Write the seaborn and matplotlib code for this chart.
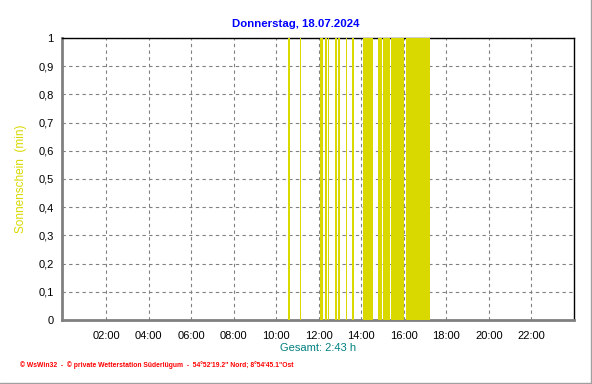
import numpy as np
import pandas as pd
import matplotlib
matplotlib.use("Agg")
import matplotlib.pyplot as plt
from matplotlib.lines import Line2D
from matplotlib.ticker import MultipleLocator, FuncFormatter
import seaborn as sns

# sunshine intervals (start time, duration in minutes)
sun_start = ["10:34", "11:07", "12:02", "12:18", "12:26", "12:46", "12:55",
             "13:17", "13:34", "14:05", "14:11", "14:46", "15:02", "15:24",
             "16:06"]
sun_minutes = [1, 1, 8, 2, 1, 1, 3, 1, 1, 1, 20, 10, 17, 34, 65]
sun_value = [1] * len(sun_start)

hour_ticks = [2, 4, 6, 8, 10, 12, 14, 16, 18, 20, 22]
hour_labels = ["02:00", "04:00", "06:00", "08:00", "10:00", "12:00",
               "14:00", "16:00", "18:00", "20:00", "22:00"]

title = "Donnerstag, 18.07.2024"
total_label = "Gesamt: 2:43 h"
footer = ("© WsWin32  -  © private Wetterstation Süderlügum  -  "
          "54°52'19.2\" Nord; 8°54'45.1\"Ost")

df = pd.DataFrame({
    "start": pd.to_timedelta([s + ":00" for s in sun_start]).total_seconds() / 3600,
    "width": np.array(sun_minutes) / 60,
    "value": sun_value,
})

sns.set_style("white")
plt.rcParams["font.family"] = ["Liberation Sans", "DejaVu Sans"]

fig = plt.figure(figsize=(5.92, 3.84), dpi=100)
ax = fig.add_axes([62 / 592, 1 - 320 / 384, 512 / 592, 282 / 384])

bar_col = "#d9d900"
ax.bar(df["start"], df["value"], width=df["width"], align="edge",
       color=bar_col, edgecolor=bar_col, linewidth=0.72, antialiased=False,
       zorder=3)

ax.set_xlim(-0.08, 24)
ax.set_ylim(0, 1)


def comma_fmt(v, pos):
    if abs(v) < 1e-9:
        return "0"
    if abs(v - 1) < 1e-9:
        return "1"
    return ("%.1f" % v).replace(".", ",")


ax.set_xticks(hour_ticks)
ax.set_xticklabels(hour_labels)
ax.xaxis.set_minor_locator(MultipleLocator(0.5))
ax.yaxis.set_major_locator(MultipleLocator(0.1))
ax.yaxis.set_minor_locator(MultipleLocator(0.02))
ax.yaxis.set_major_formatter(FuncFormatter(comma_fmt))
ax.grid(True, which="major", color="#808080", linestyle=(0, (3, 3)), linewidth=0.8, zorder=1)

ax.tick_params(axis="both", which="major", labelsize=8, colors="#808080",
               labelcolor="black", length=4, width=1, direction="out", pad=2)
ax.tick_params(axis="x", which="minor", length=3, width=1, color="#808080", direction="out")
ax.tick_params(axis="y", which="minor", length=2, width=1, color="#808080", direction="in")
ax.tick_params(axis="x", which="major", pad=4)

for side in ["left", "bottom"]:
    ax.spines[side].set_color("#808080")
    ax.spines[side].set_linewidth(2)
for side in ["top", "right"]:
    ax.spines[side].set_color("black")
    ax.spines[side].set_linewidth(1)

ax.set_ylabel("Sonnenschein  (min)", color="#d9d900", fontsize=8.5)
ax.yaxis.set_label_coords(-35 / 512, 0.5)
ax.set_xlabel("")

fig.text(296 / 592, 1 - 24 / 384, title, color="#0000ff", fontsize=8.2,
         fontweight="bold", ha="center", va="center")
fig.text(318 / 592, 1 - 348 / 384, total_label, color="#008080",
         fontsize=8, ha="center", va="center")
fig.text(20 / 592, 1 - 365 / 384, footer, color="red", fontsize=4.85,
         fontweight="bold", ha="left", va="center")

# grey frame at right and bottom edge of the image
fig.add_artist(Line2D([590.5 / 592, 590.5 / 592], [0, 1], color="#a0a0a0", linewidth=1,
                      transform=fig.transFigure))
fig.add_artist(Line2D([0, 1], [0.8 / 384, 0.8 / 384], color="#a0a0a0", linewidth=1,
                      transform=fig.transFigure))

fig.savefig("out.png", dpi=100)
